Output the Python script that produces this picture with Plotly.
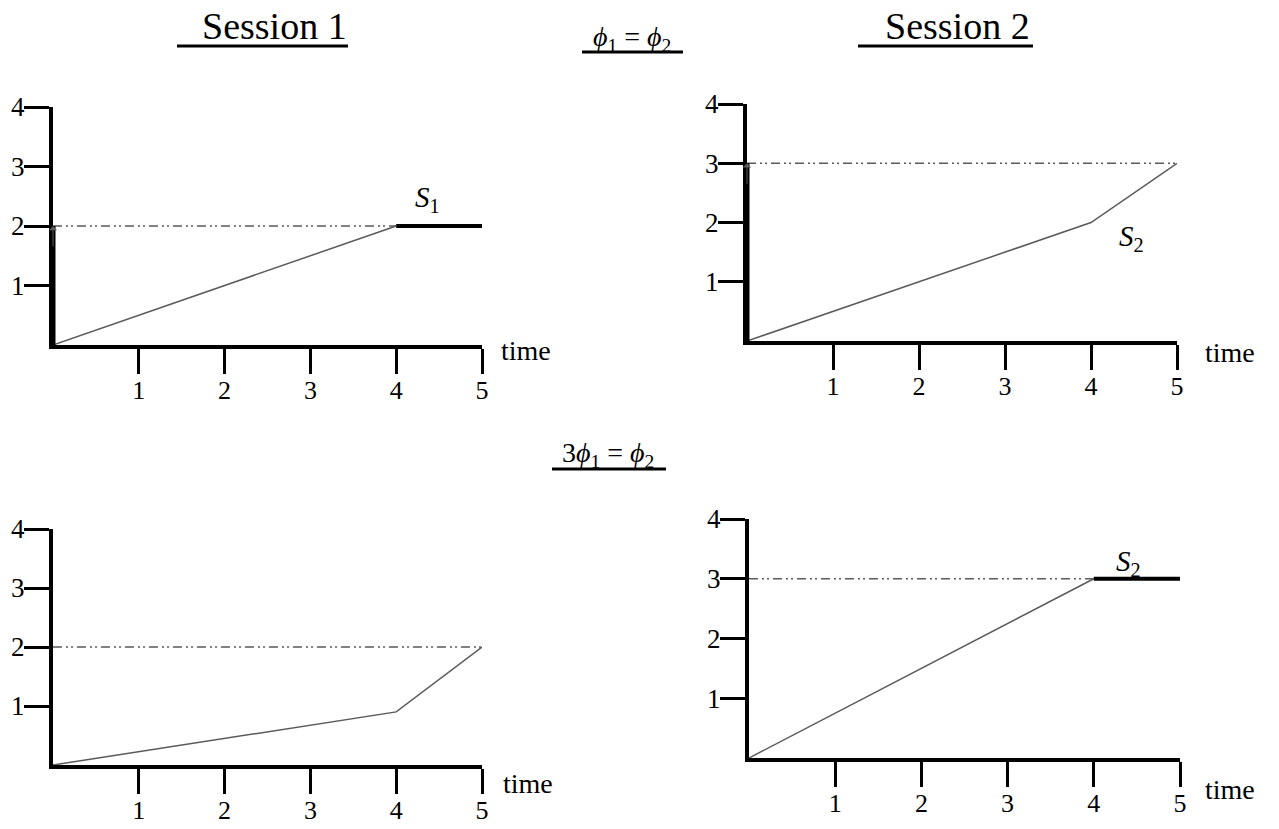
import plotly.graph_objects as go

# The page body margin is removed (see write_html below), so the figure fills the window
OFF = 0
W, H = 1279, 829

# ---------------- data ----------------
x_ticks = [1, 2, 3, 4, 5]
y_ticks = [1, 2, 3, 4]

# Panel 1: Session 1, phi1 = phi2
p1_thin_x = [0, 4]
p1_thin_y = [0, 2]
p1_thick_x = [4, 5]
p1_thick_y = [2, 2]
p1_dash_x = [0, 4]
p1_dash_y = [2, 2]
p1_bold_x = [0, 0]
p1_bold_y = [0, 2]

# Panel 2: Session 2, phi1 = phi2
p2_thin_x = [0, 4, 5]
p2_thin_y = [0, 2, 3]
p2_dash_x = [0, 5]
p2_dash_y = [3, 3]
p2_bold_x = [0, 0]
p2_bold_y = [0, 3]

# Panel 3: Session 1, 3 phi1 = phi2
p3_thin_x = [0, 4, 5]
p3_thin_y = [0, 0.9, 2]
p3_dash_x = [0, 5]
p3_dash_y = [2, 2]

# Panel 4: Session 2, 3 phi1 = phi2
p4_thin_x = [0, 4]
p4_thin_y = [0, 3]
p4_thick_x = [4, 5]
p4_thick_y = [3, 3]
p4_dash_x = [0, 4]
p4_dash_y = [3, 3]

FONT = "Liberation Serif"
GRAY = "#5a5a5a"
DASH = "9px,4px,2px,3px,2px,4px"


def px_x(p):
    return (p - OFF) / W


def px_y(p):
    return 1 - (p - OFF) / H


fig = go.Figure()

panels = [
    # (axis suffix, xdomain px, ydomain px (bottom, top))
    ("", (53, 482), (345, 107)),
    ("2", (747, 1177), (341, 104)),
    ("3", (53, 482), (765, 529)),
    ("4", (749, 1180), (758, 519)),
]


def add(xs, ys, ax, color, width, dash=None):
    fig.add_trace(go.Scatter(
        x=xs, y=ys, mode="lines", xaxis="x" + ax, yaxis="y" + ax,
        line=dict(color=color, width=width, dash=dash),
        showlegend=False, hoverinfo="skip"))


# panel 1
add(p1_dash_x, p1_dash_y, "", GRAY, 1.5, DASH)
add(p1_thin_x, p1_thin_y, "", GRAY, 1.5)
add(p1_thick_x, p1_thick_y, "", "black", 4)
add(p1_bold_x, p1_bold_y, "", "black", 5)
# panel 2
add(p2_dash_x, p2_dash_y, "2", GRAY, 1.5, DASH)
add(p2_thin_x, p2_thin_y, "2", GRAY, 1.5)
add(p2_bold_x, p2_bold_y, "2", "black", 5)
# panel 3
add(p3_dash_x, p3_dash_y, "3", GRAY, 1.5, DASH)
add(p3_thin_x, p3_thin_y, "3", GRAY, 1.5)
# panel 4
add(p4_dash_x, p4_dash_y, "4", GRAY, 1.5, DASH)
add(p4_thin_x, p4_thin_y, "4", GRAY, 1.5)
add(p4_thick_x, p4_thick_y, "4", "black", 4)

layout = dict(
    template="none",
    width=W, height=H,
    margin=dict(l=0, r=0, t=0, b=0, pad=0),
    paper_bgcolor="white", plot_bgcolor="white",
    font=dict(family=FONT, size=27, color="black"),
    showlegend=False,
)

for suf, (x0, x1), (yb, yt) in panels:
    xname = "xaxis" + suf
    yname = "yaxis" + suf
    layout[xname] = dict(
        domain=[px_x(x0), px_x(x1)], range=[0, 5], anchor="y" + suf,
        automargin=False,
        showgrid=False, zeroline=False, showline=True, linecolor="black",
        linewidth=4, ticks="outside", ticklen=25, tickwidth=3,
        tickcolor="black", tickvals=x_ticks, ticktext=[str(v) for v in x_ticks],
        ticklabelstandoff=-6, tickfont=dict(family=FONT, size=26),
        fixedrange=True,
    )
    layout[yname] = dict(
        domain=[px_y(yb), px_y(yt)], range=[0, 4], anchor="x" + suf,
        automargin=False,
        showgrid=False, zeroline=False, showline=True, linecolor="black",
        linewidth=4, ticks="outside", ticklen=25, tickwidth=3,
        tickcolor="black", tickvals=y_ticks, ticktext=[str(v) for v in y_ticks],
        ticklabelstandoff=-6, tickfont=dict(family=FONT, size=27),
        fixedrange=True,
    )

fig.update_layout(**layout)

ann = []
# "time" labels
for (xp, yp) in [(499, 350), (1203, 352), (501, 783), (1203, 789)]:
    ann.append(dict(text="time", xref="paper", yref="paper", x=px_x(xp), y=px_y(yp),
                    xanchor="left", yanchor="middle", showarrow=False,
                    font=dict(family=FONT, size=28)))

# series labels
ann += [
    dict(text="<i>S</i><sub>1</sub>", xref="x", yref="y", x=4.37, y=2.45,
         showarrow=False, font=dict(family=FONT, size=29)),
    dict(text="<i>S</i><sub>2</sub>", xref="x2", yref="y2", x=4.47, y=1.74,
         showarrow=False, font=dict(family=FONT, size=29)),
    dict(text="<i>S</i><sub>1</sub>", xref="x3", yref="y3", x=5.33, y=1.86,
         showarrow=False, font=dict(family=FONT, size=29)),
    dict(text="<i>S</i><sub>2</sub>", xref="x4", yref="y4", x=4.4, y=3.27,
         showarrow=False, font=dict(family=FONT, size=29)),
]

# small arrowheads on the bold segments
ann += [
    dict(x=0, y=2, xref="x", yref="y", ax=0, ay=22, showarrow=True, arrowhead=1,
         arrowsize=1.4, arrowwidth=1, arrowcolor=GRAY, text=""),
    dict(x=0, y=3, xref="x2", yref="y2", ax=0, ay=22, showarrow=True, arrowhead=1,
         arrowsize=1.4, arrowwidth=1, arrowcolor=GRAY, text=""),
]

# titles
ann += [
    dict(text="Session 1", xref="paper", yref="paper", x=px_x(274), y=px_y(26),
         xanchor="center", yanchor="middle", showarrow=False,
         font=dict(family=FONT, size=38)),
    dict(text="Session 2", xref="paper", yref="paper", x=px_x(957), y=px_y(26),
         xanchor="center", yanchor="middle", showarrow=False,
         font=dict(family=FONT, size=38)),
    dict(text="<i>ϕ</i><sub>1</sub> = <i>ϕ</i><sub>2</sub>", xref="paper", yref="paper",
         x=px_x(632), y=px_y(39), xanchor="center", yanchor="middle", showarrow=False,
         font=dict(family=FONT, size=28)),
    dict(text="3<i>ϕ</i><sub>1</sub> = <i>ϕ</i><sub>2</sub>", xref="paper", yref="paper",
         x=px_x(608), y=px_y(454), xanchor="center", yanchor="middle", showarrow=False,
         font=dict(family=FONT, size=28)),
]
fig.update_layout(annotations=ann)

# underlines of titles
shapes = []
for (xa, xb, yy) in [(177, 348, 46), (858, 1033, 46), (582, 683, 52), (552, 666, 469)]:
    shapes.append(dict(type="line", xref="paper", yref="paper",
                       x0=px_x(xa), x1=px_x(xb), y0=px_y(yy), y1=px_y(yy),
                       line=dict(color="black", width=3)))
fig.update_layout(shapes=shapes)

fig.write_html(
    "out.html",
    config={"displayModeBar": False, "staticPlot": True},
    post_script="document.body.style.margin='0';document.body.style.overflow='hidden';",
)
